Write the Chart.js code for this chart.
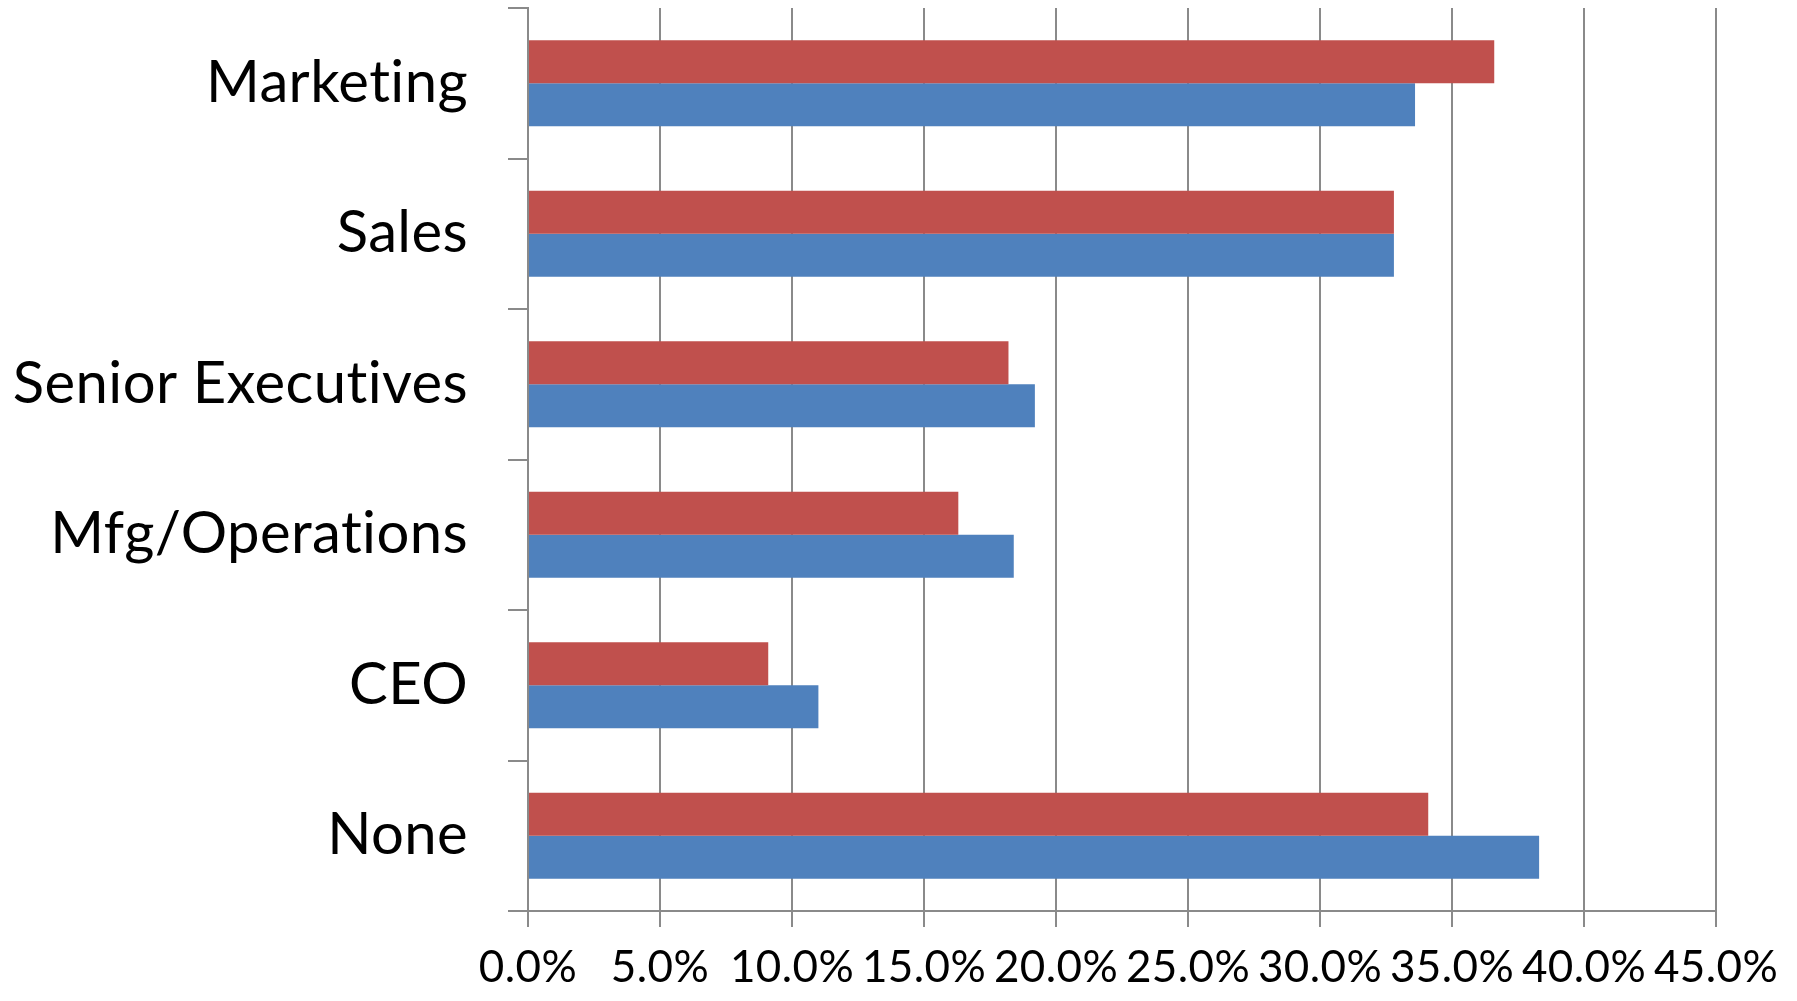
<!DOCTYPE html>
<html>
<head>
<meta charset="utf-8">
<script src="https://cdn.jsdelivr.net/npm/chart.js@4/dist/chart.umd.min.js"></script>
<style>
  html, body { margin: 0; padding: 0; background: #fff; overflow: hidden; }
  #wrap { width: 1797px; height: 1001px; }
</style>
</head>
<body>
<div id="wrap"><canvas id="chart" width="1797" height="1001"></canvas></div>
<script>
// --- DATOS ---
const categories = ['Marketing', 'Sales', 'Senior Executives', 'Mfg/Operations', 'CEO', 'None'];
const series1 = [33.6, 32.8, 19.2, 18.4, 11.0, 38.3]; // azul
const series2 = [36.6, 32.8, 18.2, 16.3, 9.1, 34.1];  // rojo
const xTicks = [0, 5, 10, 15, 20, 25, 30, 35, 40, 45];

const gridGray = '#8a8a8a';
const labelFont = 'Lato, "Open Sans", sans-serif';

// un poco de espaciado evita las ligaduras "ti" de Lato
const spacingPlugin = {
    id: 'letterSpacing',
    beforeDraw(chart) {
        chart.ctx.letterSpacing = '0.4px';
    }
};

const ctx = document.getElementById('chart').getContext('2d');

new Chart(ctx, {
    type: 'bar',
    data: {
        labels: categories,
        datasets: [
            { label: 'Series 2', data: series2, backgroundColor: '#C0504D' },
            { label: 'Series 1', data: series1, backgroundColor: '#4F81BD' }
        ]
    },
    plugins: [spacingPlugin],
    options: {
        indexAxis: 'y',
        responsive: false,
        animation: false,
        layout: { padding: { top: 8, right: 81, left: 0, bottom: 0 } },
        datasets: {
            bar: { barPercentage: 1.0, categoryPercentage: 0.57 }
        },
        plugins: {
            legend: { display: false },
            tooltip: { enabled: false }
        },
        scales: {
            x: {
                min: 0,
                max: 45,
                afterBuildTicks: (scale) => {
                    scale.ticks = xTicks.map(v => ({ value: v }));
                },
                afterFit: (scale) => { scale.height = 90; },
                grid: {
                    color: gridGray,
                    lineWidth: 2,
                    tickLength: 16,
                    drawOnChartArea: true
                },
                border: { color: gridGray, width: 2 },
                ticks: {
                    autoSkip: false,
                    maxRotation: 0,
                    padding: 14,
                    color: '#000',
                    font: { family: labelFont, size: 44 },
                    callback: (v) => Number(v).toFixed(1) + '%'
                }
            },
            y: {
                afterFit: (scale) => {
                    scale.width = 528;
                    scale.paddingTop = 0;
                    scale.paddingBottom = 0;
                },
                grid: {
                    color: gridGray,
                    lineWidth: 2,
                    tickLength: 20,
                    offset: true,
                    drawOnChartArea: false
                },
                border: { color: gridGray, width: 2 },
                ticks: {
                    padding: 40,
                    color: '#000',
                    font: { family: labelFont, size: 58 }
                }
            }
        }
    }
});
</script>
</body>
</html>
